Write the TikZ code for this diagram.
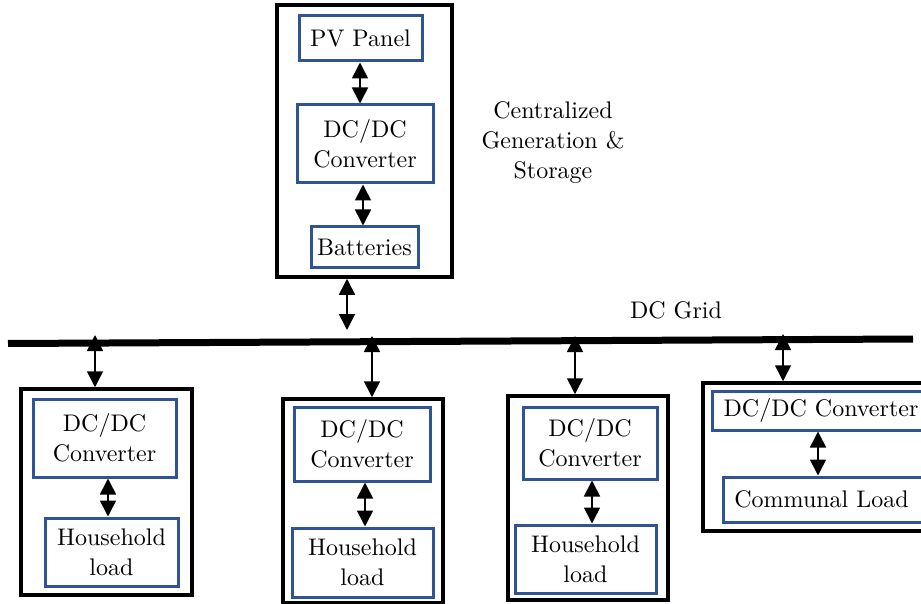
\documentclass[tikz,border=0pt]{standalone}
\usetikzlibrary{arrows.meta}
\definecolor{boxblue}{RGB}{47,84,150}
\font\diagfont="[lmroman10-regular.otf]" at 24pt
\begin{document}
\begin{tikzpicture}[x=1pt,y=-1pt,
  outerbox/.style={draw=black,line width=3.5pt,inner sep=0pt},
  innerbox/.style={draw=boxblue,line width=3pt,inner sep=0pt,align=center,font={\diagfont\baselineskip=30pt\relax}},
  lbl/.style={align=center,font={\diagfont\baselineskip=30pt\relax},inner sep=0pt},
  biarrow/.style={line width=1.6pt,{Triangle[width=16pt,length=16pt]}-{Triangle[width=16pt,length=16pt]}}]
\path[use as bounding box,clip] (0,0) rectangle (921,604);
% grid
\coordinate (gl) at (8,343.5);
\coordinate (gr) at (913,339);
\draw[line width=7pt] (gl) -- (gr);
\node[lbl] (gridlbl) at (676,310) {DC Grid};
% top group
\node[outerbox,minimum width=175pt,minimum height=272pt] (top) at (364.5,141) {};
\node[innerbox,minimum width=123pt,minimum height=45pt] (pv) at (360.5,38.5) {PV Panel};
\node[innerbox,minimum width=136pt,minimum height=78pt] (dct) at (365,144) {DC/DC\\Converter};
\node[innerbox,minimum width=107pt,minimum height=40pt] (bat) at (364.5,247) {Batteries};
\node[lbl] (cgs) at (553,143) {Centralized\\Generation \&\\Storage};
\coordinate (xa) at (360,0);
\coordinate (xb) at (363,0);
\draw[biarrow] (pv.south -| xa) -- (dct.north -| xa);
\draw[biarrow] (dct.south -| xb) -- (bat.north -| xb);
\coordinate (gt) at (347,330);
\draw[biarrow] (top.south -| gt) -- (gt);
% box 1
\node[outerbox,minimum width=171pt,minimum height=206pt] (b1) at (106.5,492) {};
\node[innerbox,minimum width=143pt,minimum height=78pt] (dc1) at (104.5,438) {DC/DC\\Converter};
\node[innerbox,minimum width=133pt,minimum height=68pt] (hh1) at (111.5,552) {Household\\load};
\coordinate (g1) at (95,335);
\draw[biarrow] (g1) -- (b1.north -| g1);
\coordinate (x1) at (108,0);
\draw[biarrow] (dc1.south -| x1) -- (hh1.north -| x1);
% box 2
\node[outerbox,minimum width=160pt,minimum height=204pt] (b2) at (363,501) {};
\node[innerbox,minimum width=136pt,minimum height=74pt] (dc2) at (362,444) {DC/DC\\Converter};
\node[innerbox,minimum width=141pt,minimum height=69pt] (hh2) at (362.5,562.5) {Household\\load};
\coordinate (g2) at (372,336);
\draw[biarrow] (g2) -- (b2.north -| g2);
\coordinate (x2) at (365,0);
\draw[biarrow] (dc2.south -| x2) -- (hh2.north -| x2);
% box 3
\node[outerbox,minimum width=160pt,minimum height=204pt] (b3) at (588,498) {};
\node[innerbox,minimum width=134pt,minimum height=72pt] (dc3) at (590,443) {DC/DC\\Converter};
\node[innerbox,minimum width=141pt,minimum height=68pt] (hh3) at (585.5,559) {Household\\load};
\coordinate (g3) at (575,336);
\draw[biarrow] (g3) -- (b3.north -| g3);
\coordinate (x3) at (592,0);
\draw[biarrow] (dc3.south -| x3) -- (hh3.north -| x3);
% box 4 (cut at the right edge)
\node[outerbox,minimum width=237pt,minimum height=148pt] (b4) at (821.5,457) {};
\node[innerbox,minimum width=223pt,minimum height=39pt] (dc4) at (823.5,410.5) {};
\node[lbl] (dc4t) at (821,410.5) {DC/DC Converter};
\node[innerbox,minimum width=207pt,minimum height=45pt] (cl) at (826.5,499.5) {};
\node[lbl] (clt) at (821.5,499.5) {Communal Load};
\coordinate (g4) at (783,334);
\draw[biarrow] (g4) -- (b4.north -| g4);
\coordinate (x4) at (818,0);
\draw[biarrow] (dc4.south -| x4) -- (cl.north -| x4);
\end{tikzpicture}
\end{document}
